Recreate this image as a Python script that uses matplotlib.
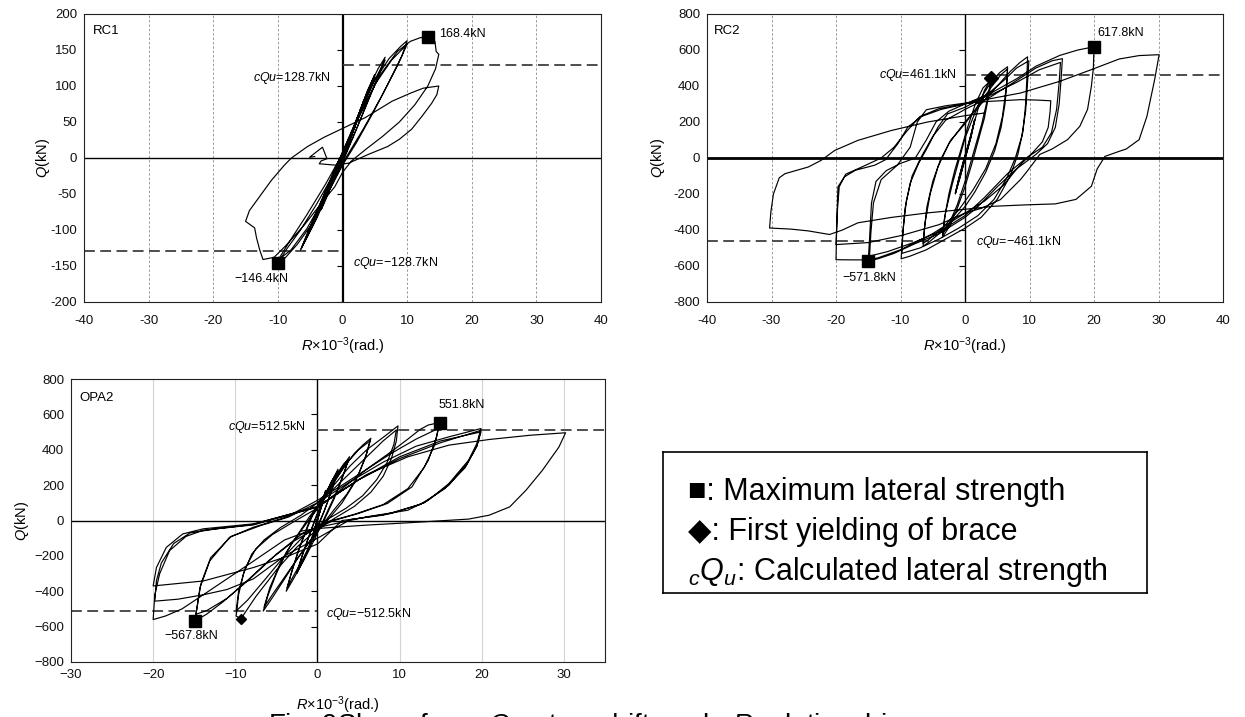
import matplotlib
matplotlib.use('Agg')
import matplotlib.pyplot as plt
import numpy as np

plt.rcParams['font.family'] = ['Liberation Sans', 'DejaVu Sans']
plt.rcParams['mathtext.fontset'] = 'custom'
plt.rcParams['mathtext.rm'] = 'Liberation Sans'
plt.rcParams['mathtext.it'] = 'Liberation Sans:italic'
plt.rcParams['mathtext.bf'] = 'Liberation Sans:bold'
plt.rcParams['axes.unicode_minus'] = False

# ---------------- data (R in 10^-3 rad, Q in kN) ----------------
rc1_path = [
    (0, 0),
    (1.0, 24), (2.0, 46), (1.3, 30), (0.3, 6), (-1.0, -20), (-2.0, -40), (-1.2, -24), (-0.2, -3),
    (1.0, 22), (2.0, 45), (1.2, 27), (0.2, 3), (-1.0, -21), (-2.0, -40), (-1.1, -21), (0.0, 0),
    (1.5, 34), (2.6, 62), (3.3, 80), (2.4, 58), (1.2, 26), (0.0, -3), (-1.5, -33), (-2.6, -58), (-3.3, -72), (-2.4, -50), (-1.2, -20), (0.0, 6),
    (1.5, 36), (3.3, 78), (2.2, 52), (0.8, 16), (-0.8, -16), (-3.3, -70), (-2.2, -44), (-0.8, -10),
    (1.2, 30), (2.8, 68), (4.0, 96), (5.0, 116), (3.8, 90), (2.0, 50), (0.5, 10), (-1.2, -25), (-3.0, -62), (-4.2, -86), (-5.0, -100), (-3.8, -76), (-2.0, -38), (-0.5, -4),
    (1.5, 36), (3.5, 84), (5.0, 113), (3.6, 84), (1.5, 34), (0.0, 0), (-2.0, -40), (-5.0, -98), (-3.5, -68), (-1.5, -26), (0.0, 4),
    (1.8, 44), (3.8, 92), (5.5, 124), (6.6, 140), (5.6, 115), (3.8, 76), (1.8, 32), (0.0, -6), (-2.0, -44), (-4.0, -84), (-5.6, -112), (-6.5, -128), (-5.4, -104), (-3.5, -64), (-1.5, -22), (0.0, 8),
    (2.0, 48), (4.5, 100), (6.6, 136), (5.0, 102), (2.6, 50), (0.4, 4), (-2.0, -42), (-4.5, -92), (-6.4, -126), (-5.0, -96), (-2.6, -46), (-0.5, -2),
    (2.4, 58), (5.0, 108), (7.2, 138), (9.0, 155), (10.0, 163), (9.2, 142), (7.2, 106), (4.8, 64), (2.2, 22), (0.0, -10), (-2.2, -48), (-4.6, -90), (-7.0, -120), (-8.8, -138), (-10.0, -146), (-8.6, -126), (-6.5, -100), (-4.0, -64), (-1.6, -26), (0.0, 2),
    (2.5, 56), (5.0, 102), (7.6, 136), (10.0, 158), (8.6, 130), (6.2, 88), (3.2, 40), (0.5, 0), (-2.5, -50), (-5.5, -98), (-8.0, -128), (-10.0, -142), (-8.2, -116), (-5.6, -80), (-2.6, -36), (0.0, 6),
    (2.8, 62), (5.8, 115), (8.5, 148), (10.5, 162), (12.0, 167), (13.3, 168.4), (14.3, 162), (14.5, 148), (14.9, 144), (14.4, 124), (13.2, 100), (11.2, 74), (8.8, 50), (6.2, 30), (3.6, 12), (1.4, -4), (0.0, -20),
    (-1.2, -40), (-3.2, -62), (-6.0, -94), (-8.8, -122), (-10.6, -138), (-12.3, -141), (-12.8, -128), (-13.3, -111), (-13.6, -97), (-15.0, -88),
    (-14.4, -73), (-13.1, -57), (-11.0, -31), (-9.0, -10), (-7.9, 0), (-5.4, 16), (-2.8, 29), (0.0, 41),
    (3.5, 56), (7.7, 79), (10.5, 90), (12.5, 97), (14.9, 100), (14.6, 88), (13.8, 76), (12.3, 58), (10.7, 40), (8.8, 26), (7.0, 16), (4.0, 5), (1.0, -7),
    (-1.0, -10), (-2.3, -9), (-3.6, -8), (-3.3, -4), (-2.4, -1), (-2.8, 8), (-3.1, 15), (-5.1, 1), (-4.3, 2),
]

rc2_path = [
    (0, 0),
    (0.8, 110), (1.5, 215), (1.0, 130), (0.2, 20), (-0.7, -100), (-1.5, -200), (-1.0, -120), (-0.2, -10),
    (0.8, 105), (1.5, 210), (0.9, 110), (0.0, -5), (-0.8, -110), (-1.5, -195), (-0.9, -105), (0.0, 10),
    (1.0, 140), (2.0, 270), (3.0, 375), (4.1, 443), (3.7, 350), (3.0, 220), (2.0, 90), (1.0, -40), (0.0, -160), (-1.2, -280), (-2.4, -380), (-3.5, -440), (-3.2, -340), (-2.5, -200), (-1.6, -70), (-0.6, 50),
    (0.4, 170), (1.6, 300), (2.8, 390), (4.0, 430), (3.5, 330), (2.6, 190), (1.4, 40), (0.2, -110), (-1.2, -260), (-2.4, -360), (-3.5, -425), (-3.0, -300), (-2.0, -150), (-1.0, -20), (0.0, 110),
    (1.2, 220), (2.6, 340), (4.0, 420), (5.4, 475), (6.6, 507), (6.5, 420), (6.2, 300), (5.6, 170), (4.6, 40), (3.2, -80), (1.5, -190), (0.0, -270), (-2.0, -350), (-4.0, -420), (-5.5, -465), (-6.5, -490), (-6.3, -400), (-5.9, -270), (-5.0, -130), (-3.8, -10), (-2.2, 100), (0.0, 190),
    (2.0, 290), (4.0, 390), (5.5, 460), (6.6, 495), (6.4, 390), (5.8, 230), (4.8, 80), (3.2, -60), (1.2, -180), (-1.0, -290), (-3.5, -390), (-5.5, -450), (-6.5, -475), (-6.2, -360), (-5.4, -200), (-4.2, -50), (-2.5, 80), (0.0, 200),
    (2.5, 300), (5.0, 400), (7.0, 480), (8.5, 530), (9.7, 562), (9.6, 450), (9.4, 300), (9.0, 150), (8.2, 20), (7.0, -100), (5.0, -230), (2.5, -330), (0.0, -390), (-3.0, -450), (-6.0, -510), (-8.5, -545), (-9.9, -560), (-9.7, -440), (-9.3, -280), (-8.5, -140), (-7.2, -30), (-5.8, 60), (-4.2, 171), (-2.7, 245), (0.0, 282),
    (3.0, 340), (6.0, 430), (8.0, 500), (9.9, 540), (9.7, 420), (9.4, 260), (8.8, 120), (7.8, 0), (6.5, -110), (4.5, -230), (2.0, -320), (-1.0, -390), (-4.0, -450), (-7.0, -500), (-9.8, -530), (-9.6, -400), (-9.1, -240), (-8.2, -100), (-6.8, 5), (-5.0, 120), (-3.0, 210), (0.0, 270),
    (4.0, 340), (8.0, 430), (11.0, 500), (13.5, 540), (15.1, 552), (14.9, 440), (14.6, 300), (14.0, 170), (12.8, 80), (11.0, 20), (8.0, -60), (5.0, -160), (2.0, -270), (0.0, -330), (-4.0, -420), (-8.0, -480), (-11.0, -530), (-13.5, -560), (-15.0, -571.8), (-14.8, -450), (-14.5, -250), (-13.8, -130), (-12.2, -70), (-10.0, -30), (-7.7, 0), (-6.0, 100), (-4.5, 200), (-2.5, 260), (0.0, 300),
    (4.0, 350), (8.0, 420), (11.5, 490), (14.8, 531), (14.6, 420), (14.2, 270), (13.4, 140), (12.0, 60), (9.5, 0), (6.5, -90), (3.0, -220), (0.0, -320), (-4.0, -410), (-8.0, -470), (-12.0, -520), (-14.8, -545), (-14.6, -420), (-14.2, -250), (-13.0, -120), (-10.5, -40), (-8.5, 60), (-7.4, 200), (-6.0, 268), (-3.0, 290), (0.0, 305), (4.0, 315), (8.6, 324), (11.0, 322), (13.3, 318), (13.2, 260), (12.9, 170), (12.0, 90), (10.5, 30), (8.5, -40),
    (6.0, -150), (3.0, -240), (0.0, -306), (-5.0, -420), (-10.0, -510), (-13.5, -555), (-15.0, -566), (-17.5, -566), (-20.0, -565), (-19.9, -400), (-19.7, -160), (-18.7, -105), (-17.0, -68), (-14.0, -40), (-12.3, -9), (-10.4, 80), (-8.9, 170), (-6.8, 230), (-3.7, 270), (0.0, 300), (4.0, 360), (8.0, 440), (11.0, 510), (14.7, 570), (17.5, 600), (20.0, 617.8),
    (19.9, 500), (19.6, 400), (19.0, 270), (17.8, 176), (15.9, 102), (13.5, 50), (11.6, 20), (11.0, -9), (9.5, -80), (8.6, -120), (5.5, -231), (2.5, -280), (0.0, -306), (-4.0, -370), (-9.8, -430), (-15.0, -470), (-20.0, -481),
    (-19.8, -300), (-19.5, -160), (-18.5, -90), (-16.0, -50), (-13.0, 0), (-11.0, 60), (-9.0, 150), (-7.0, 230), (-4.0, 275), (0.0, 300), (4.0, 330), (8.6, 361), (14.7, 426), (19.6, 491), (23.9, 550), (27.0, 569), (30.1, 574),
    (29.4, 435), (28.2, 231), (27.0, 102), (25.0, 50), (23.9, 37), (21.7, 9), (20.5, -60), (19.6, -157), (17.2, -230), (14.0, -255), (9.7, -260), (4.5, -268), (0.0, -285), (-5.8, -305), (-11.4, -330), (-16.6, -360), (-19.0, -400), (-21.0, -425), (-24.3, -405), (-27.0, -395), (-30.3, -389),
    (-30.1, -300), (-29.7, -200), (-28.8, -110), (-27.9, -87), (-24.3, -50), (-22.3, -13), (-20.2, 42), (-16.6, 98), (-11.4, 153), (-5.8, 200), (0.0, 235), (3.0, 250),
]

opa2_path = [
    (0, 0),
    (0.5, 90), (1.0, 170), (0.6, 100), (0.0, 0), (-0.5, -80), (-1.0, -150), (-0.6, -90), (0.0, 10),
    (0.5, 95), (1.0, 165), (0.5, 80), (-0.1, -10), (-0.6, -95), (-1.0, -145), (-0.5, -70), (0.0, 10),
    (0.8, 120), (1.6, 210), (2.5, 290), (2.0, 210), (1.2, 100), (0.2, -20), (-0.8, -130), (-1.8, -230), (-2.5, -300), (-2.0, -220), (-1.2, -110), (-0.2, 20),
    (0.8, 120), (1.7, 220), (2.5, 280), (1.8, 180), (0.8, 50), (-0.3, -60), (-1.2, -170), (-2.5, -290), (-1.8, -190), (-0.8, -60), (0.2, 60),
    (1.0, 150), (2.0, 230), (3.0, 300), (3.9, 361), (3.3, 280), (2.5, 180), (1.5, 80), (0.5, -20), (-0.5, -120), (-1.6, -220), (-2.8, -320), (-3.8, -400), (-3.2, -300), (-2.4, -180), (-1.4, -60), (-0.4, 50),
    (1.0, 160), (2.2, 250), (3.2, 320), (3.8, 345), (3.1, 250), (2.0, 120), (0.8, 0), (-0.5, -100), (-1.8, -220), (-3.0, -320), (-3.7, -380), (-3.0, -270), (-2.0, -130), (-0.8, 20),
    (0.5, 100), (1.8, 200), (3.2, 300), (4.5, 380), (5.6, 430), (6.5, 465), (6.0, 380), (5.0, 260), (3.6, 150), (2.0, 60), (0.5, -30), (-1.0, -120), (-2.5, -220), (-4.0, -330), (-5.4, -430), (-6.6, -512), (-6.0, -420), (-5.0, -300), (-3.8, -180), (-2.4, -80), (-1.0, 20), (0.5, 110),
    (2.0, 220), (3.5, 320), (5.0, 400), (6.4, 450), (5.8, 350), (4.6, 220), (3.0, 100), (1.2, 0), (-0.5, -90), (-2.2, -200), (-4.0, -320), (-5.5, -420), (-6.5, -490), (-5.8, -380), (-4.6, -250), (-3.0, -120), (-1.4, -20), (0.2, 80),
    (2.0, 200), (4.0, 310), (6.0, 400), (8.0, 470), (9.8, 535), (9.6, 450), (9.0, 350), (8.0, 250), (6.5, 160), (4.5, 80), (2.0, 10), (0.0, -50), (-2.5, -150), (-5.0, -280), (-7.5, -430), (-8.8, -520), (-9.3, -556), (-9.9, -540),
    (-9.6, -420), (-9.0, -300), (-8.0, -190), (-6.5, -110), (-4.5, -40), (-2.0, 30), (0.0, 100), (2.0, 180), (4.0, 270), (6.0, 360), (8.0, 450), (9.6, 512), (9.3, 430), (8.5, 330), (7.2, 230), (5.5, 140), (3.5, 70), (1.0, 0), (-1.5, -80), (-4.0, -200), (-6.5, -340), (-8.5, -450), (-9.9, -512), (-9.6, -400), (-8.8, -270), (-7.5, -160), (-5.5, -80), (-3.0, -10), (0.0, 70),
    (3.0, 180), (6.0, 290), (9.0, 390), (11.0, 460), (12.5, 515), (13.5, 540), (14.9, 554), (14.5, 473), (13.5, 341), (11.5, 190), (8.5, 96), (5.0, 40), (2.0, 0), (0.0, -40), (-3.0, -120), (-6.0, -230), (-9.0, -360), (-11.5, -460), (-13.5, -530), (-14.9, -567.8), (-14.3, -380), (-13.1, -228), (-10.7, -95), (-7.8, -38), (-3.8, 19), (0.0, 114),
    (3.0, 200), (6.0, 290), (9.0, 380), (12.0, 460), (14.7, 520), (14.3, 430), (13.0, 300), (11.0, 180), (8.0, 90), (4.5, 35), (1.0, -10), (-2.0, -80), (-5.0, -190), (-8.0, -320), (-11.0, -440), (-13.5, -510), (-14.8, -530), (-14.2, -360), (-13.0, -210), (-10.5, -90), (-7.0, -30), (-3.5, 20), (0.0, 100),
    (4.0, 220), (8.0, 330), (12.0, 420), (16.0, 473), (19.9, 520), (19.4, 435), (18.4, 341), (16.0, 209), (13.5, 115), (11.0, 58), (6.0, 21), (0.0, -40), (-4.0, -110), (-7.8, -230), (-11.0, -330), (-13.9, -420), (-16.5, -500), (-18.5, -540), (-20.0, -560),
    (-19.8, -420), (-19.2, -300), (-18.0, -170), (-16.0, -90), (-13.9, -55), (-7.8, -25), (0.0, 76), (5.0, 230), (10.0, 360), (15.0, 450), (19.9, 501), (19.4, 420), (18.2, 320), (16.0, 200), (13.0, 100), (9.0, 40), (4.0, 5), (0.0, -100), (-4.0, -200), (-7.8, -330), (-11.0, -390), (-13.9, -420), (-17.0, -445), (-19.8, -456),
    (-19.6, -340), (-19.0, -240), (-17.5, -130), (-15.5, -70), (-12.0, -45), (-7.8, -22), (0.0, 80), (5.0, 230), (10.0, 350), (15.0, 440), (19.9, 510), (19.4, 420), (18.0, 300), (15.5, 180), (12.5, 90), (8.0, 30), (3.0, 0), (0.0, -133), (-3.5, -200), (-7.8, -266), (-13.9, -342), (-20.0, -370),
    (-19.6, -266), (-18.4, -152), (-16.4, -76), (-13.9, -47), (-7.8, -19), (0.0, 76), (3.0, 170), (6.0, 260), (11.0, 360), (16.0, 426), (20.9, 458), (25.9, 482), (30.2, 496),
    (29.4, 416), (27.4, 285), (25.4, 172), (23.4, 77), (20.9, 30), (18.4, 8), (11.0, -13), (6.0, -26), (0.0, -45), (-2.0, -60),
]

rc1_max = [(13.3, 168.4), (-10.0, -146.4)]
rc2_max = [(20.0, 617.8), (-15.0, -571.8)]
rc2_yield = [(4.1, 443)]
opa2_max = [(14.9, 551.8), (-14.9, -567.8)]
opa2_yield = [(-9.3, -556)]

rc1_cqu = 128.7
rc2_cqu = 461.1
opa2_cqu = 512.5

rc_xticks = [-40, -30, -20, -10, 0, 10, 20, 30, 40]
opa_xticks = [-30, -20, -10, 0, 10, 20, 30]
rc1_yticks = [-200, -150, -100, -50, 0, 50, 100, 150, 200]
big_yticks = [-800, -600, -400, -200, 0, 200, 400, 600, 800]

legend_lines = ["\u25A0: Maximum lateral strength",
                "\u25C6: First yielding of brace",
                r"${}_{c}Q_{u}$: Calculated lateral strength"]
caption = "Fig. 9Shear force $Q$ - story drift angle $R$ relationships"

# ---------------- figure ----------------
W, H = 1245, 717
fig = plt.figure(figsize=(W / 100, H / 100), dpi=100)


def px_axes(l, t, r, b):
    return fig.add_axes([l / W, 1 - b / H, (r - l) / W, (b - t) / H])


def setup(ax, path, xlim, xticks, ylim, yticks, minus, grid_dashed, hz_lw, vt_lw, cqu, xpad):
    ax.set_xlim(*xlim)
    ax.set_ylim(*ylim)
    ax.set_xticks(xticks)
    ax.set_yticks(yticks)
    ax.set_xticklabels([str(v).replace('-', minus) for v in xticks])
    ax.set_yticklabels([str(v).replace('-', minus) for v in yticks])
    ax.tick_params(length=0, labelsize=9.5, colors='#111111')
    ax.tick_params(axis='x', pad=xpad)
    ax.tick_params(axis='y', pad=5)
    for s in ax.spines.values():
        s.set_color('#222222')
        s.set_linewidth(0.8)
    for x in xticks:
        if x == 0 or x == xlim[0] or x == xlim[1]:
            continue
        if grid_dashed:
            ax.axvline(x, color='#9a9a9a', lw=0.7, ls=(0, (2.5, 2)), zorder=1)
        else:
            ax.axvline(x, color='#d4d4d4', lw=0.8, zorder=1)
    ax.axhline(0, color='black', lw=hz_lw, zorder=2)
    ax.axvline(0, color='black', lw=vt_lw, zorder=2)
    ax.plot(np.zeros(len(yticks)), yticks, ls='none', marker=0, ms=4,
            mew=0.8, color='black', zorder=2)
    R = [p[0] for p in path]
    Q = [p[1] for p in path]
    ax.plot(R, Q, color='black', lw=0.85, zorder=3)
    ax.plot([0, xlim[1]], [cqu, cqu], color='#404040', lw=1.3, ls=(0, (6, 3)), zorder=2)
    ax.plot([xlim[0], 0], [-cqu, -cqu], color='#404040', lw=1.3, ls=(0, (6, 3)), zorder=2)
    ax.set_xlabel(r"$R$$\times$10$^{\mathregular{-3}}$(rad.)", fontsize=10.5)
    ax.set_ylabel(r"$Q$(kN)", fontsize=10.5)
    ax.xaxis.set_label_coords(0.5, -0.115)


# RC1
ax1 = px_axes(84, 14, 601, 302)
setup(ax1, rc1_path, (-40, 40), rc_xticks, (-200, 200), rc1_yticks, '-', True, 1.0, 1.6, rc1_cqu, 9)
ax1.yaxis.set_label_coords(-0.062, 0.5)
ax1.plot([p[0] for p in rc1_max], [p[1] for p in rc1_max], ls='none', marker='s', ms=9, color='black', zorder=4)
ax1.text(-38.6, 176, "RC1", fontsize=9.5, va='center', ha='left')
ax1.text(15.0, 172, "168.4kN", fontsize=9, va='center', ha='left')
ax1.text(-1.8, 111, "$cQu$=128.7kN", fontsize=9, va='center', ha='right')
ax1.text(1.6, -146, "$cQu$=\u2212128.7kN", fontsize=9, va='center', ha='left')
ax1.text(-12.6, -168, "\u2212146.4kN", fontsize=9, va='center', ha='center')

# RC2
ax2 = px_axes(707, 14, 1223, 302)
setup(ax2, rc2_path, (-40, 40), rc_xticks, (-800, 800), big_yticks, '-', True, 2.0, 1.0, rc2_cqu, 9)
ax2.yaxis.set_label_coords(-0.077, 0.5)
ax2.plot([p[0] for p in rc2_max], [p[1] for p in rc2_max], ls='none', marker='s', ms=9, color='black', zorder=4)
ax2.plot([p[0] for p in rc2_yield], [p[1] for p in rc2_yield], ls='none', marker='D', ms=7, color='black', zorder=4)
ax2.text(-39.0, 704, "RC2", fontsize=9.5, va='center', ha='left')
ax2.text(20.5, 694, "617.8kN", fontsize=9, va='center', ha='left')
ax2.text(-1.3, 463, "$cQu$=461.1kN", fontsize=9, va='center', ha='right')
ax2.text(1.7, -468, "$cQu$=\u2212461.1kN", fontsize=9, va='center', ha='left')
ax2.text(-14.9, -667, "\u2212571.8kN", fontsize=9, va='center', ha='center')

# OPA2
ax3 = px_axes(71, 379, 605, 662)
setup(ax3, opa2_path, (-30, 35), opa_xticks, (-800, 800), big_yticks, '\u2212', False, 1.0, 1.0, opa2_cqu, 5)
ax3.yaxis.set_label_coords(-0.075, 0.5)
ax3.plot([p[0] for p in opa2_max], [p[1] for p in opa2_max], ls='none', marker='s', ms=9, color='black', zorder=4)
ax3.plot([p[0] for p in opa2_yield], [p[1] for p in opa2_yield], ls='none', marker='D', ms=5, color='black', zorder=4)
ax3.text(-29.0, 695, "OPA2", fontsize=9.5, va='center', ha='left')
ax3.text(14.7, 652, "551.8kN", fontsize=9, va='center', ha='left')
ax3.text(-1.4, 530, "$cQu$=512.5kN", fontsize=9, va='center', ha='right')
ax3.text(1.0, -530, "$cQu$=\u2212512.5kN", fontsize=9, va='center', ha='left')
ax3.text(-15.4, -654, "\u2212567.8kN", fontsize=9, va='center', ha='center')
ax3.xaxis.set_label_coords(0.5, -0.115)

# legend box
axl = px_axes(663, 452, 1147, 593)
axl.set_xticks([])
axl.set_yticks([])
for s in axl.spines.values():
    s.set_color('black')
    s.set_linewidth(1.2)
for i, line in enumerate(legend_lines):
    fig.text(688 / W, 1 - (492 + 40 * i) / H, line, fontsize=22, va='center', ha='left')

# caption (clipped at the bottom edge, as in the source)
fig.text(268 / W, 1 - 733 / H, caption, fontsize=20, va='baseline', ha='left')

fig.savefig("out.png", dpi=100)
